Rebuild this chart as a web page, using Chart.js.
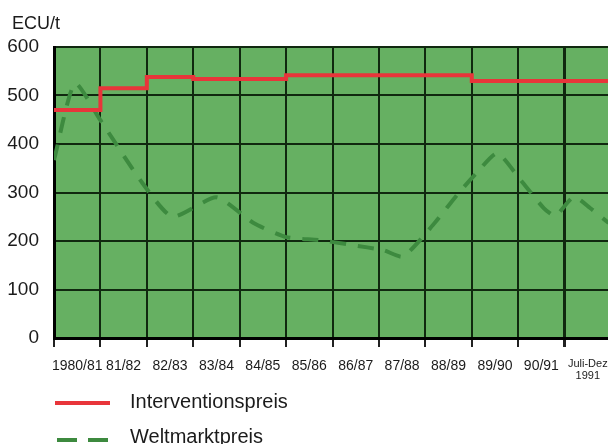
<!DOCTYPE html>
<html>
<head>
<meta charset="utf-8">
<script src="https://cdn.jsdelivr.net/npm/chart.js@4/dist/chart.umd.min.js"></script>
<style>
	html, body { margin: 0; padding: 0; background: #fff; overflow: hidden; }
	#wrap { position: relative; width: 612px; height: 444px; }
</style>
</head>
<body>
<div id="wrap"><canvas id="myChart" width="612" height="444"></canvas></div>
<script>
// Wirtschaftsjahre (jede Spalte ein Jahr, die letzte nur Juli-Dezember)
const seasons = ["1980/81", "81/82", "82/83", "83/84", "84/85", "85/86", "86/87", "87/88", "88/89", "89/90", "90/91", ["Juli-Dez", "1991"]];
// Interventionspreis je Wirtschaftsjahr, ECU/t
const interventionPrice = [470, 515, 538, 534, 534, 542, 542, 542, 542, 530, 530, 530];
// Weltmarktpreis: Lage innerhalb der Jahre (0 = Beginn 1980/81) und Preis, ECU/t
const worldPos = [0, 0.45, 1.0, 1.9, 2.55, 3.5, 4.3, 5.0, 5.7, 6.4, 7.1, 7.52, 8.2, 8.7, 9.1, 9.55, 10.05, 10.55, 10.8, 11.2, 11.55, 11.95];
const worldPrice = [367, 525, 449, 320, 250, 290, 237, 208, 202, 192, 181, 168, 237, 297, 340, 381, 326, 268, 252, 291, 268, 237];
const yMin = 0, yMax = 600, yStep = 100;

const FONT = "'Liberation Sans', Arial, Helvetica, sans-serif";
const RED = "#e8353a";
const GREEN_LINE = "#3d8a3f";
const FIELD = "#66b062";
const GRID = "#10280f";

Chart.defaults.font.family = FONT;
Chart.defaults.color = "#1b1b1b";

// step line: each value holds for the whole year, last value runs to the end
const redData = interventionPrice.map((v, i) => ({ x: i, y: v }));
redData.push({ x: seasons.length, y: interventionPrice[interventionPrice.length - 1] });

const greenData = worldPos.map((x, i) => ({ x: x, y: worldPrice[i] }));

const fieldPlugin = {
	id: "field_background",
	beforeDraw: (chart) => {
		const { ctx, chartArea } = chart;
		ctx.save();
		ctx.fillStyle = FIELD;
		ctx.fillRect(chartArea.left, chartArea.top, chartArea.right - chartArea.left, chartArea.bottom - chartArea.top);
		ctx.restore();
	},
	afterDraw: (chart) => {
		const ctx = chart.ctx;
		const ds = chart.data.datasets;
		ctx.save();
		// unit label
		ctx.fillStyle = "#1b1b1b";
		ctx.font = "18px " + FONT;
		ctx.textBaseline = "alphabetic";
		ctx.fillText("ECU/t", 12, 29);

		// legend
		ctx.lineCap = "butt";
		ctx.lineWidth = 4;
		ctx.strokeStyle = ds[0].borderColor;
		ctx.beginPath();
		ctx.moveTo(55, 403);
		ctx.lineTo(110, 403);
		ctx.stroke();

		ctx.strokeStyle = ds[1].borderColor;
		ctx.setLineDash([20, 11]);
		ctx.beginPath();
		ctx.moveTo(57, 440);
		ctx.lineTo(110, 440);
		ctx.stroke();
		ctx.setLineDash([]);

		ctx.font = "20px " + FONT;
		ctx.fillText(ds[0].label, 130, 408);
		ctx.fillText(ds[1].label, 130, 443);
		ctx.restore();
	}
};

const isBoundary = (c) => c.tick && Math.abs(c.tick.value % 1) < 1e-6;

new Chart(document.getElementById("myChart"), {
	type: "line",
	data: {
		datasets: [
			{
				label: "Interventionspreis",
				data: redData,
				stepped: true,
				borderColor: RED,
				borderWidth: 4,
				pointRadius: 0,
				fill: false
			},
			{
				label: "Weltmarktpreis",
				data: greenData,
				borderColor: GREEN_LINE,
				borderWidth: 4,
				borderDash: [16, 12],
				tension: 0.2,
				pointRadius: 0,
				fill: false
			}
		]
	},
	plugins: [fieldPlugin],
	options: {
		responsive: false,
		animation: false,
		devicePixelRatio: 1,
		layout: { padding: { top: 47, right: 1, left: 0, bottom: 0 } },
		plugins: {
			legend: { display: false },
			tooltip: { enabled: false }
		},
		scales: {
			x: {
				type: "linear",
				min: 0,
				max: seasons.length,
				afterFit: (s) => {
					s.height = 106;
					s.paddingLeft = 0;
					s.paddingRight = 0;
				},
				ticks: {
					stepSize: 0.5,
					autoSkip: false,
					maxRotation: 0,
					minRotation: 0,
					padding: 11,
					color: "#1b1b1b",
					font: (c) => {
						const last = c.tick && c.tick.value > seasons.length - 1;
						return last ? { size: 11, lineHeight: 1.1 } : { size: 14 };
					},
					callback: (v) => {
						if (Math.abs(v % 1 - 0.5) > 1e-6) return "";
						return seasons[Math.floor(v)];
					}
				},
				grid: {
					color: (c) => (isBoundary(c) ? GRID : "rgba(0,0,0,0)"),
					tickColor: (c) => (isBoundary(c) ? "#222" : "rgba(0,0,0,0)"),
					lineWidth: (c) => (c.tick && c.tick.value === 11 ? 3 : 2),
					drawTicks: true,
					tickLength: 9
				},
				border: { display: true, color: "#000", width: 3 }
			},
			y: {
				min: yMin,
				max: yMax,
				afterFit: (s) => {
					s.width = 54;
					s.paddingTop = 0;
					s.paddingBottom = 0;
				},
				ticks: {
					stepSize: yStep,
					padding: 15,
					color: "#1b1b1b",
					font: { size: 19 }
				},
				grid: {
					color: GRID,
					lineWidth: 2,
					drawTicks: false
				},
				border: { display: true, color: "#000", width: 3 }
			}
		}
	}
});
</script>
</body>
</html>
